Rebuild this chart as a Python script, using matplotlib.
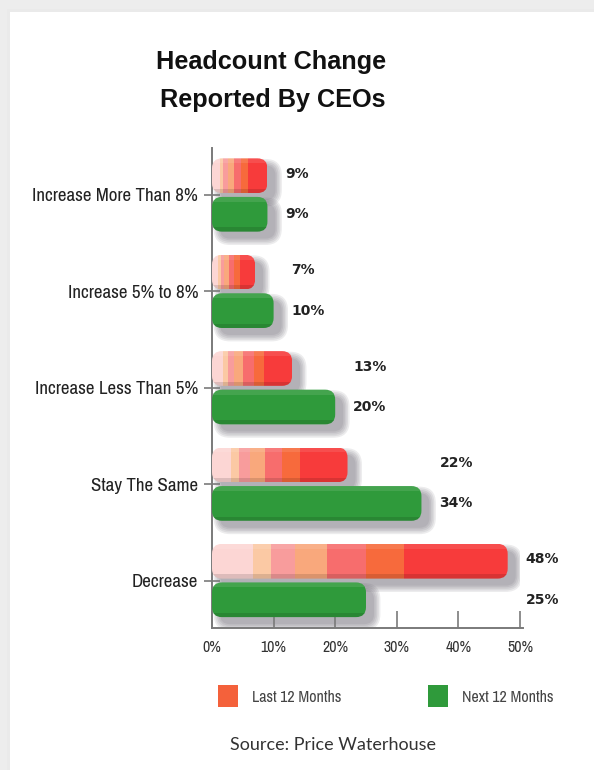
"""Headcount change chart: rounded, striped horizontal bars with soft shadows."""

import matplotlib

matplotlib.use("Agg")
import matplotlib.pyplot as plt
from matplotlib import font_manager as fm
from matplotlib.patches import FancyBboxPatch, Rectangle

categories = [
    "Increase More Than 8%",
    "Increase 5% to 8%",
    "Increase Less Than 5%",
    "Stay The Same",
    "Decrease",
]
last_12 = [9, 7, 13, 22, 48]
next_12 = [9, 10, 20, 34, 25]
x_ticks = [0, 10, 20, 30, 40, 50]
series_names = ["Last 12 Months", "Next 12 Months"]

W, H = 594, 770

# pick a narrow face for the axis and legend text if one is installed
narrow = {"family": "DejaVu Sans", "stretch": "normal"}
_fonts = fm.fontManager.ttflist
for f in _fonts:
    if "Narrow" in f.name or "Condensed" in f.name:
        narrow = {"family": f.name, "stretch": f.stretch}
        break
else:
    for f in _fonts:
        if f.name == "DejaVu Sans" and "condensed" in str(f.stretch):
            narrow = {"family": "DejaVu Sans", "stretch": "condensed"}
            break
NARROW_TXT = {"family": [narrow["family"], "DejaVu Sans"], "fontstretch": narrow["stretch"]}

# red bars fade from pale pink to red in bands (fraction of bar length)
red_bands = [0.14, 0.20, 0.28, 0.39, 0.52, 0.65, 1.0]
red_colors = ["#FCD6D4", "#FBC9A4", "#F89C9C", "#F9A87C", "#F76D6D", "#F76A3C", "#F73B3B"]
green = "#2F9A3B"
legend_red = "#F4613B"


def fx(px):
    return px / W


def fy(py):
    return 1 - py / H


fig = plt.figure(figsize=(W / 100, H / 100), dpi=100)
fig.patch.set_facecolor("#EDEDED")

# white card with a faint edge
for i, c in enumerate(["#E4E4E4", "#EAEAEA"]):
    fig.add_artist(Rectangle((fx(8 - i), 0), 1, fy(10 - i), transform=fig.transFigure,
                             facecolor=c, edgecolor="none", zorder=0))
fig.add_artist(Rectangle((fx(10), 0), 1, fy(12), transform=fig.transFigure,
                         facecolor="white", edgecolor="none", zorder=0))

# axes placed so that 0%..50% spans the plotting area
ax_left, ax_right, ax_top, ax_bottom = 212, 520, 148, 628
ax = fig.add_axes([fx(ax_left), fy(ax_bottom), (ax_right - ax_left) / W,
                   (ax_bottom - ax_top) / H])
ax.set_facecolor("none")

spacing_px = 96.4
y_top = 4 + (195 - ax_top) / spacing_px
y_bot = -(ax_bottom - 580.5) / spacing_px
ax.set_xlim(0, 50)
ax.set_ylim(y_bot, y_top)

x_per_px = 50 / (ax_right - ax_left)
y_per_px = 1 / spacing_px
asp = y_per_px / x_per_px

bar_h = 0.36
gap = 0.02
radius = 10 * x_per_px


def rounded(x0, y0, w, h, r, **kw):
    return FancyBboxPatch((x0, y0), w, h, boxstyle=f"round,pad=0,rounding_size={r}",
                          mutation_aspect=asp, **kw)


def shadow(y0, value):
    dx, dy = 8 * x_per_px, -7 * y_per_px
    for k in range(5):
        e = k * 1.6 * x_per_px
        ey = k * 1.6 * y_per_px
        ax.add_patch(rounded(dx - e, y0 + dy - ey, value + 2 * e, bar_h + 2 * ey,
                             radius + e, facecolor="#57525F", edgecolor="none",
                             alpha=0.11, zorder=1))


def gloss(y0, value, clip):
    # darker lower edge and a lighter top edge for a slight 3D look
    lo = ax.barh(y0, value, height=bar_h * 0.12, left=0, align="edge",
                 color="black", alpha=0.12, zorder=4)
    hi = ax.barh(y0 + bar_h * 0.86, value, height=bar_h * 0.14, left=0, align="edge",
                 color="white", alpha=0.10, zorder=4)
    for b in list(lo) + list(hi):
        b.set_clip_path(clip)


centers = [4 - i for i in range(len(categories))]

for yc, lv, nv in zip(centers, last_12, next_12):
    # Last 12 months: striped red bar above the centre line
    y_red = yc + gap
    shadow(y_red, lv)
    outline = rounded(0, y_red, lv, bar_h, radius, facecolor="none",
                      edgecolor="none", zorder=3)
    ax.add_patch(outline)
    start = 0
    for frac, col in zip(red_bands, red_colors):
        seg = ax.barh(y_red, lv * frac - start, height=bar_h, left=start,
                      align="edge", color=col, edgecolor="none", zorder=3)
        seg[0].set_clip_path(outline)
        start = lv * frac
    gloss(y_red, lv, outline)

    # Next 12 months: green bar below the centre line
    y_grn = yc - gap - bar_h
    shadow(y_grn, nv)
    gbar = rounded(0, y_grn, nv, bar_h, radius, facecolor=green,
                   edgecolor="none", zorder=3)
    ax.add_patch(gbar)
    gloss(y_grn, nv, gbar)

    # value labels sit just past the longer bar of the pair
    lx = max(lv, nv) + 18 * x_per_px
    ax.text(lx, y_red + bar_h / 2 + 0.02, f"{lv}%", fontsize=10, fontweight="bold",
            color="#222222", va="center", ha="left", clip_on=False)
    ax.text(lx, y_grn + bar_h / 2, f"{nv}%", fontsize=10, fontweight="bold",
            color="#222222", va="center", ha="left", clip_on=False)

for side in ["top", "right"]:
    ax.spines[side].set_visible(False)
for side in ["left", "bottom"]:
    ax.spines[side].set_color("#7A7A7A")
    ax.spines[side].set_linewidth(1.4)
ax.spines["bottom"].set_bounds(0, 50.5)

ax.set_yticks(centers)
ax.set_yticklabels(categories, fontsize=13.7, color="#222222", **NARROW_TXT)
ax.tick_params(axis="y", direction="inout", length=12, width=1.2, color="#7A7A7A", pad=4)

ax.set_xticks(x_ticks)
ax.set_xticklabels([f"{t}%" for t in x_ticks], fontsize=11.4, color="#333333", **NARROW_TXT)
ax.tick_params(axis="x", direction="in", length=12, width=1.2, color="#7A7A7A", pad=9)

# title
fig.text(fx(271), fy(62), "Headcount Change", ha="center", va="center",
         fontsize=18.2, fontweight="bold", family="Liberation Sans", color="#111111")
fig.text(fx(273), fy(100), "Reported By CEOs", ha="center", va="center",
         fontsize=18.2, fontweight="bold", family="Liberation Sans", color="#111111")

# legend
for (sx, tx), name, col in zip([(218, 252), (428, 462)], series_names, [legend_red, green]):
    fig.add_artist(Rectangle((fx(sx), fy(707)), 20 / W, 22 / H, transform=fig.transFigure,
                             facecolor=col, edgecolor="none"))
    fig.text(fx(tx), fy(697), name, ha="left", va="center", fontsize=11.5,
             color="#444444", **NARROW_TXT)

fig.text(fx(333), fy(745), "Source: Price Waterhouse", ha="center", va="center",
         fontsize=13, family=["Lato", "DejaVu Sans"], color="#333333")

fig.savefig("out.png", dpi=100, facecolor=fig.get_facecolor())
